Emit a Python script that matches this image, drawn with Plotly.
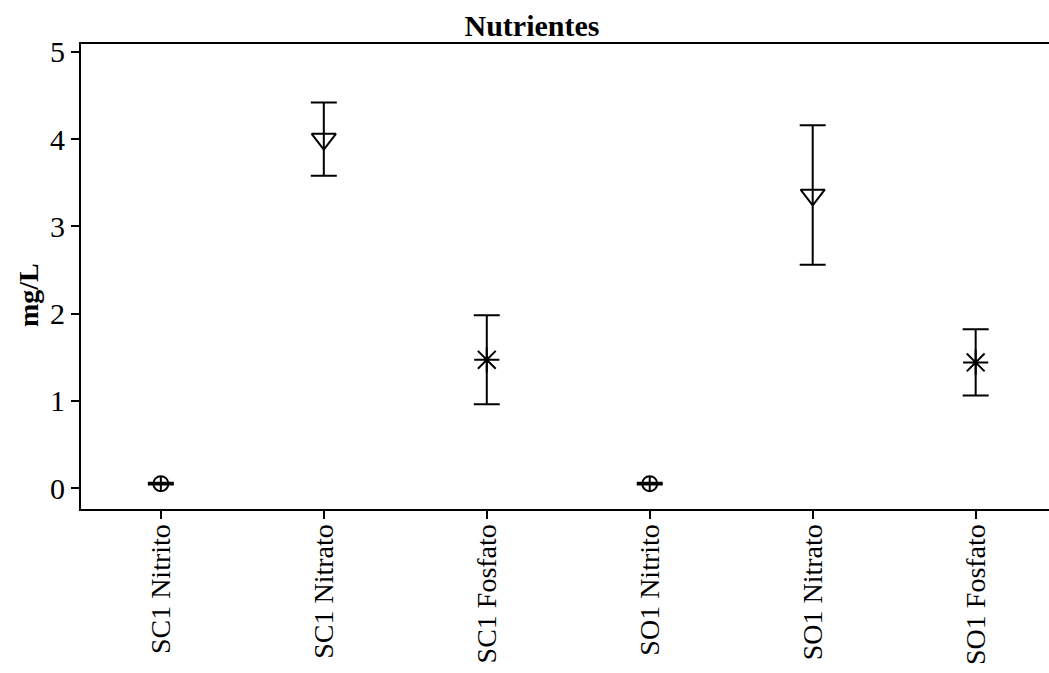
import plotly.graph_objects as go

categories = ["SC1 Nitrito", "SC1 Nitrato", "SC1 Fosfato", "SO1 Nitrito", "SO1 Nitrato", "SO1 Fosfato"]
means = [0.05, 4.00, 1.47, 0.05, 3.36, 1.44]
errors = [0.01, 0.42, 0.51, 0.01, 0.80, 0.38]
symbols = ["circle-cross-open", "triangle-down-open", "asterisk-open",
           "circle-cross-open", "triangle-down-open", "asterisk-open"]
sizes = [15, 21, 21, 15, 21, 21]

font = "Liberation Serif, Times New Roman, serif"

fig = go.Figure()
for sym in ["circle-cross-open", "triangle-down-open", "asterisk-open"]:
    idx = [i for i, s in enumerate(symbols) if s == sym]
    fig.add_trace(go.Scatter(
        x=[categories[i] for i in idx], y=[means[i] for i in idx], mode="markers",
        marker=dict(symbol=sym, size=sizes[idx[0]], color="black", line=dict(color="black", width=2)),
        error_y=dict(type="data", array=[errors[i] for i in idx], visible=True, color="black",
                     thickness=2, width=13),
        showlegend=False,
    ))

fig.update_layout(
    width=1049, height=673,
    margin=dict(l=81, r=0, t=44, b=164),
    paper_bgcolor="white", plot_bgcolor="white",
    font=dict(family=font, color="black"),
    title=dict(text="<b>Nutrientes</b>", x=532/1049, xanchor="center", y=1 - 25/673, yanchor="middle",
               font=dict(size=30, family=font, color="black")),
    xaxis=dict(type="category", categoryorder="array", categoryarray=categories,
               range=[-0.49, 5.45], showline=True, linecolor="black", linewidth=2,
               mirror=True, ticks="outside", ticklen=8, tickwidth=2, tickcolor="black", automargin=False,
               ticklabelstandoff=-6,
               tickangle=-90, tickfont=dict(size=28, family=font), showgrid=False, zeroline=False),
    yaxis=dict(range=[-0.24, 5.09], showline=True, linecolor="black", linewidth=2, mirror=False,
               ticks="outside", ticklen=8, tickwidth=2, tickcolor="black", tickvals=[0, 1, 2, 3, 4, 5],
               tickfont=dict(size=30, family=font), showgrid=False, zeroline=False, automargin=False),
    annotations=[dict(text="<b>mg/L</b>", xref="paper", yref="paper", x=-0.0548, y=0.46,
                      xanchor="center", yanchor="middle", textangle=-90, showarrow=False,
                      font=dict(size=28, family=font, color="black"))],
)

fig.write_html("out.html")
